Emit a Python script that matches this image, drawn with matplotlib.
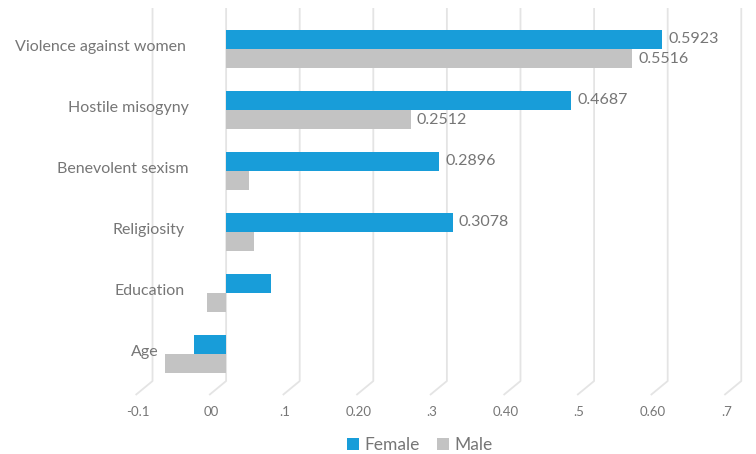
import numpy as np
import matplotlib
matplotlib.use("Agg")
import matplotlib.pyplot as plt
from matplotlib.transforms import ScaledTranslation, blended_transform_factory

plt.rcParams["font.family"] = ["Lato", "DejaVu Sans"]

# data (top to bottom as shown)
categories = ["Violence against women", "Hostile misogyny", "Benevolent sexism",
              "Religiosity", "Education", "Age"]
female = [0.5923, 0.4687, 0.2896, 0.3078, 0.061, -0.043]
male = [0.5516, 0.2512, 0.031, 0.038, -0.026, -0.083]
female_labels = ["0.5923", "0.4687", "0.2896", "0.3078", "", ""]
male_labels = ["0.5516", "0.2512", "", "", "", ""]
tick_values = [-0.1, 0.0, 0.1, 0.2, 0.3, 0.4, 0.5, 0.6, 0.7]
tick_labels = ["-0.1", "00", ".1", "0.20", ".3", "0.40", ".5", "0.60", ".7"]

BLUE = "#189dd9"
GRAY = "#c3c3c3"
TXT = "#767676"
GRID = "#e4e4e4"

fig = plt.figure(figsize=(7.56, 4.54), dpi=100)
ax = fig.add_axes([101 / 756, 59 / 454, 655 / 756, 387 / 454])
ax.set_xlim(-0.17, 0.72)
ax.set_ylim(-0.672, 5.672)

n = len(categories)
pos = np.arange(n)[::-1]
h = 0.311
off = 0.163

# back-wall gridlines with a little floor slant
y_top = 5.672
y_break = -0.443
y_bot = -0.672
for t in tick_values:
    ax.plot([t, t, t - 0.023], [y_top, y_break, y_bot], color=GRID, lw=1.3,
            zorder=0, clip_on=False, solid_capstyle="butt")

ax.barh(pos + off, female, height=h, color=BLUE, label="Female", zorder=2)
ax.barh(pos - off, male, height=h, color=GRAY, label="Male", zorder=2)

# value labels
px = 1 / 736 * 6
for p, v, s in zip(pos, female, female_labels):
    if s:
        ax.text(v + px, p + off, s, va="center", ha="left", fontsize=11.5, color=TXT)
for p, v, s in zip(pos, male, male_labels):
    if s:
        ax.text(v + px, p - off, s, va="center", ha="left", fontsize=11.5, color=TXT)

# category labels
label_shift = [0, 3, 3, -1, -1, -27]
for p, c, sh in zip(pos, categories, label_shift):
    t = ax.text(-0.055, p + 0.03, c, ha="right", va="center", fontsize=11.5, color=TXT)
    t.set_transform(ax.transData + ScaledTranslation(sh / 100, 0, fig.dpi_scale_trans))

ax.set_xticks(tick_values)
ax.set_xticklabels(tick_labels, fontsize=9.5, color=TXT)
ax.tick_params(axis="x", length=0, pad=8)
for lab in ax.get_xticklabels():
    lab.set_transform(lab.get_transform() + ScaledTranslation(-15 / 100, 0, fig.dpi_scale_trans))
ax.set_yticks([])
for s in ax.spines.values():
    s.set_visible(False)

leg = fig.legend(loc="center", bbox_to_anchor=(420 / 756, 9 / 454), ncol=2, frameon=False,
                 fontsize=12.5, handlelength=0.7, handleheight=0.7, handletextpad=0.3,
                 columnspacing=1.0, labelcolor=TXT)

fig.savefig("out.png", dpi=100)
